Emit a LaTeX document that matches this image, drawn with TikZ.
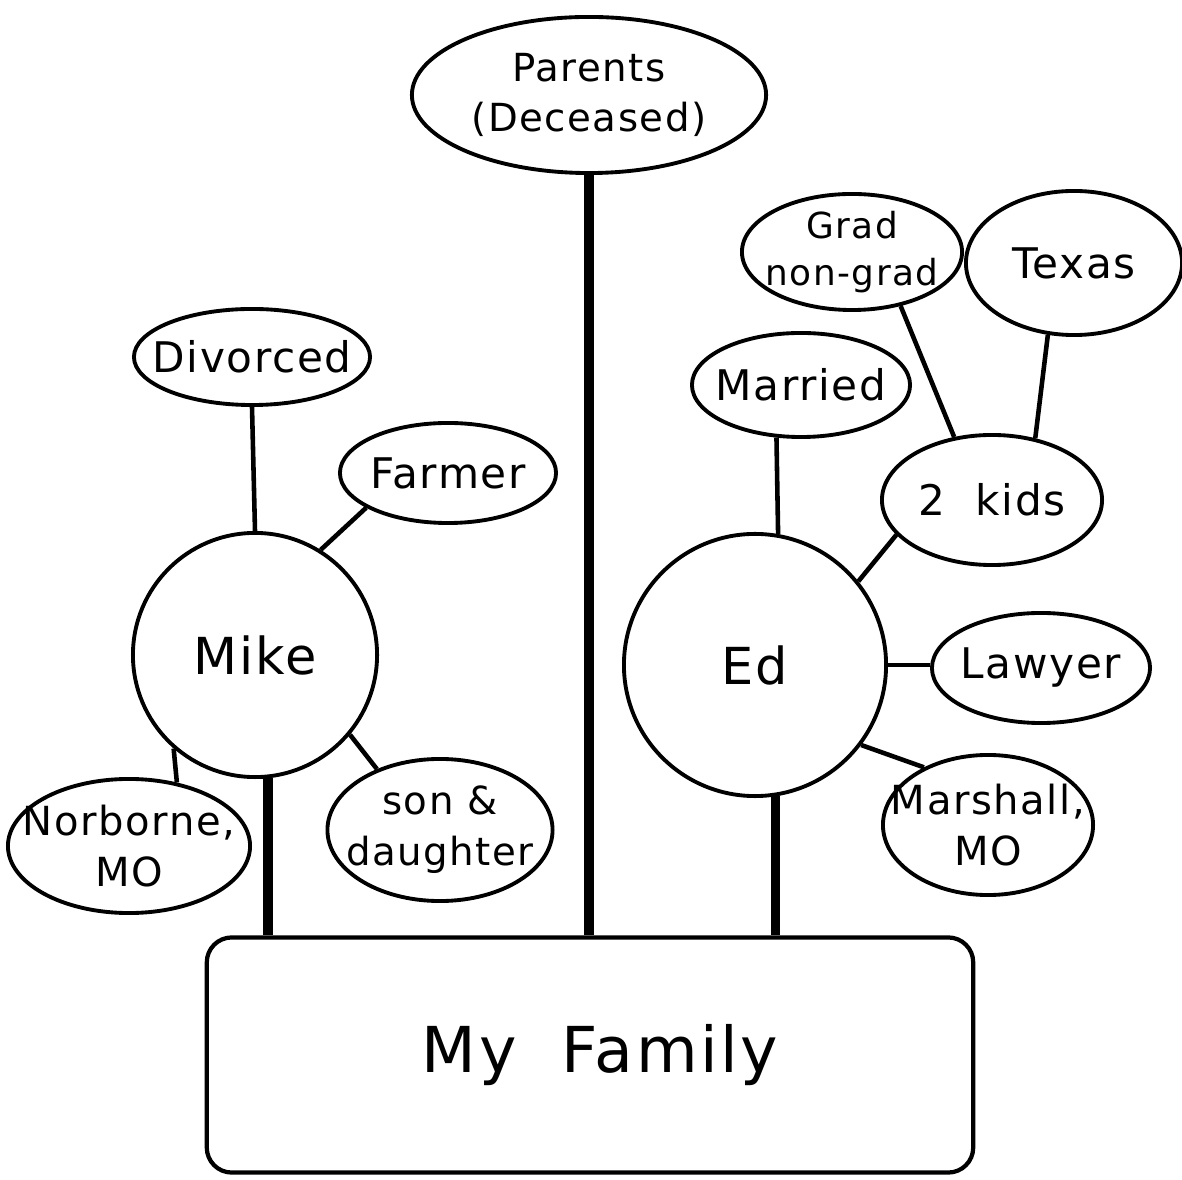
\documentclass[tikz,border=0pt]{standalone}
\usepackage{fontspec}
\setmainfont[LetterSpace=4]{DejaVu Sans}
\usetikzlibrary{shapes.geometric}
\begin{document}
\begin{tikzpicture}[x=0.01cm,y=-0.01cm,
  oval/.style={ellipse, draw, line width=1.1pt, inner sep=0pt},
  ltxt/.style={align=center, inner sep=0pt, font=\fontsize{12}{14.5}\selectfont},
  bigc/.style={circle, draw, line width=1.1pt, inner sep=0pt, font=\fontsize{14.5}{17}\selectfont},
  thinl/.style={line width=1.3pt},
  trunk/.style={line width=2.6pt}]
\useasboundingbox (0,0) rectangle (1182,1180);
\node[draw, line width=1.2pt, rounded corners=0.25cm, minimum width=7.66cm, minimum height=2.35cm, font=\fontsize{18}{21}\selectfont] (fam) at (590,1055) {\hspace{0.2cm}My\ \ Family};
\node[oval, minimum width=3.54cm, minimum height=1.56cm, label={[ltxt, font=\fontsize{11}{14.2}\selectfont]center:Parents\\(Deceased)}] (parents) at (589,95) {};
\node[bigc, minimum size=2.44cm] (mike) at (255,655) {Mike};
\node[bigc, minimum size=2.62cm] (ed) at (755,665) {Ed};
\node[oval, minimum width=2.36cm, minimum height=0.96cm, label={[ltxt]center:Divorced}] (divorced) at (252,357) {};
\node[oval, minimum width=2.16cm, minimum height=1.0cm, label={[ltxt]center:Farmer}] (farmer) at (448,473) {};
\node[oval, minimum width=2.42cm, minimum height=1.34cm, label={[ltxt, font=\fontsize{11.4}{14.5}\selectfont]center:Norborne,\\MO}] (norborne) at (129,846) {};
\node[oval, minimum width=2.25cm, minimum height=1.42cm, label={[ltxt, font=\fontsize{11}{14.5}\selectfont]center:son \&\\daughter}] (sond) at (440,830) {};
\node[oval, minimum width=2.18cm, minimum height=1.04cm, label={[ltxt]center:Married}] (married) at (801,385) {};
\node[oval, minimum width=2.2cm, minimum height=1.16cm, label={[ltxt, font=\fontsize{10.2}{13.5}\selectfont]center:Grad\\non-grad}] (grad) at (852,252) {};
\node[oval, minimum width=2.16cm, minimum height=1.44cm, label={[ltxt]center:Texas}] (texas) at (1074,263) {};
\node[oval, minimum width=2.2cm, minimum height=1.3cm, label={[ltxt]center:2\ \ kids}] (kids) at (992,500) {};
\node[oval, minimum width=2.18cm, minimum height=1.1cm, label={[ltxt]center:Lawyer}] (lawyer) at (1041,668) {};
\node[oval, minimum width=2.1cm, minimum height=1.4cm, label={[ltxt, font=\fontsize{11.4}{14.5}\selectfont]center:Marshall,\\MO}] (marshall) at (988,825) {};
% trunks
\draw[trunk] (parents.south) -- (parents.south |- fam.north);
\draw[trunk] (mike.-84) -- (mike.-84 |- fam.north);
\draw[trunk] (ed.-81) -- (ed.-81 |- fam.north);
% branches
\draw[thinl] (divorced.south) -- (mike.north);
\draw[thinl] (farmer.203) -- (mike.58);
\draw[thinl] (norborne.53) -- (mike.229);
\draw[thinl] (sond.136) -- (mike.-40);
\draw[thinl] (married.245) -- (ed.80);
\draw[thinl] (kids.200) -- (ed.39);
\draw[thinl] (ed.east) -- (ed.east -| lawyer.west);
\draw[thinl] (marshall.138) -- (ed.-37);
\draw[thinl] (grad.-48) -- (kids.121);
\draw[thinl] (texas.250) -- (kids.55);
\end{tikzpicture}
\end{document}
